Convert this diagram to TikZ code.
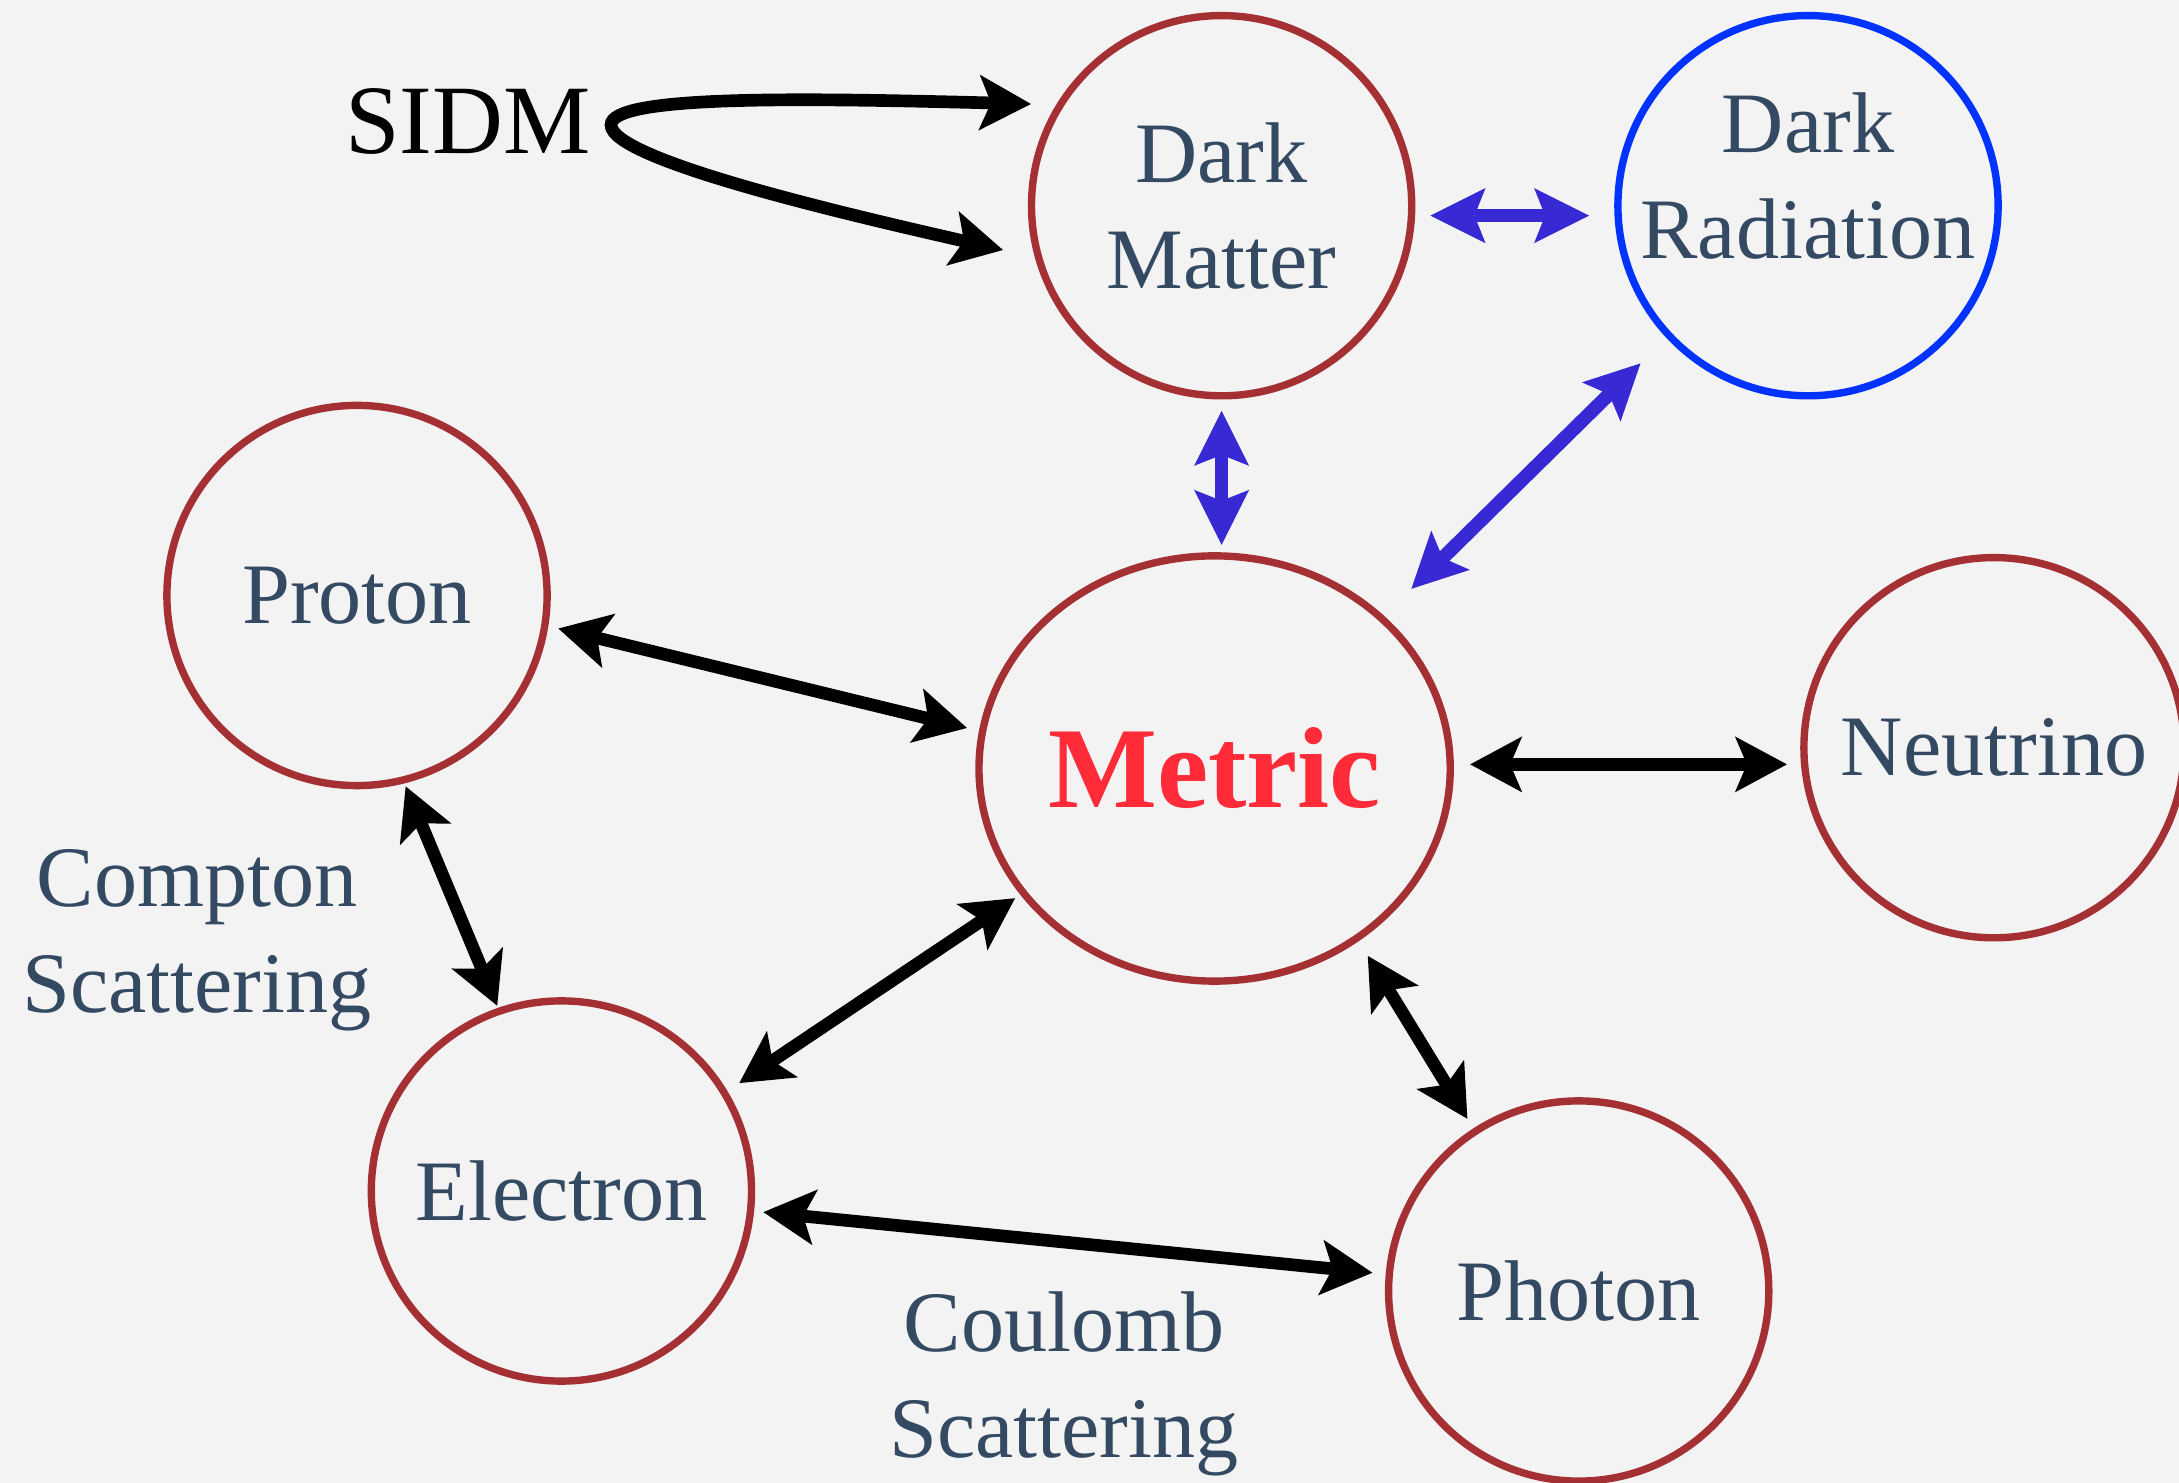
\documentclass[tikz,border=0pt]{standalone}
\usepackage{fontspec}
\setmainfont{Liberation Serif}
\usepackage{tikz}
\usetikzlibrary{arrows.meta,shapes.geometric}
\definecolor{bgcol}{HTML}{F3F3F3}
\definecolor{ringred}{HTML}{A43033}
\definecolor{ringblue}{HTML}{0033FF}
\definecolor{labelcol}{HTML}{344A63}
\definecolor{metricred}{HTML}{FF2B38}
\definecolor{arrowblue}{HTML}{3729D4}
\tikzset{
  particle/.style={circle,draw=ringred,line width=2.1pt,minimum size=3.8cm,
    inner sep=0pt,outer sep=0pt,text=labelcol,align=center,
    font=\fontsize{24.5}{30.2}\selectfont},
  caption/.style={text=labelcol,align=center,font=\fontsize{24.5}{30.2}\selectfont},
  blackarrow/.style={{Stealth[length=0.52cm,width=0.56cm,inset=0.12cm,line width=0pt]}-{Stealth[length=0.52cm,width=0.56cm,inset=0.12cm,line width=0pt]},
    line width=3.6pt,draw=black},
  bluearrow/.style={{Stealth[length=0.55cm,width=0.55cm,inset=0.11cm,line width=0pt]}-{Stealth[length=0.55cm,width=0.55cm,inset=0.11cm,line width=0pt]},
    line width=3.9pt,draw=arrowblue}
}

\begin{document}
\begin{tikzpicture}[x=0.01cm,y=-0.01cm]
    \fill[bgcol] (0,0) rectangle (2179,1483);
    \useasboundingbox (0,0) rectangle (2179,1483);

    \node[particle] (DM) at (1221.6,205.7) {Dark\\Matter};
    \node[particle,draw=ringblue,
      label={[caption,yshift=0.3cm]center:Dark\\Radiation}] (DR) at (1808,205.7) {};
    \node[particle] (Proton) at (357,595.5) {Proton};
    \node[ellipse,draw=ringred,line width=2.1pt,minimum width=4.71cm,minimum height=4.25cm,
      inner sep=0pt,outer sep=0pt,text=metricred,
      font=\fontsize{32.8}{38}\selectfont\bfseries] (Metric) at (1214.6,768.5) {Metric};
    \node[particle] (Neutrino) at (1994,747.7) {Neutrino};
    \node[particle] (Electron) at (561.4,1191) {Electron};
    \node[particle] (Photon) at (1578.7,1291) {Photon};

    \node[font=\fontsize{27.9}{33}\selectfont] (SIDM) at (468,122) {SIDM};
    \node[caption] (compton) at (197,940) {Compton\\Scattering};
    \node[caption] (coulomb) at (1064,1384) {Coulomb\\Scattering};

    \coordinate (looptop) at (1031,104);
    \coordinate (loopturn) at (611,125);
    \coordinate (loopbot) at (1003,250);
    \draw[blackarrow] (looptop) .. controls (800,98) and (611,95) .. (loopturn)
      .. controls (611,160) and (850,215) .. (loopbot);

    \draw[bluearrow,shorten <=0.19cm,shorten >=0.29cm] (DM.-3.4) -- (DR.183.4);
    \draw[bluearrow,shorten <=0.15cm,shorten >=0.11cm] (DM.south) -- (DM.south |- Metric.north);
    \draw[bluearrow,shorten <=0.42cm,shorten >=0.40cm] (Metric.42) -- (DR.223);

    \draw[blackarrow,shorten <=0.14cm,shorten >=0.16cm] (Proton.-9) -- (Metric.171.6);
    \draw[blackarrow,shorten <=0.20cm,shorten >=0.17cm] (Metric.1.6) -- (Metric.1.6 -| Neutrino.west);
    \draw[blackarrow,shorten <=0.07cm,shorten >=0.06cm] (Proton.-76.3) -- (Electron.109.5);
    \draw[blackarrow,shorten <=0.10cm,shorten >=0.18cm] (Metric.213.5) -- (Electron.31.3);
    \draw[blackarrow,shorten <=0.21cm,shorten >=0.15cm] (Metric.-50.9) -- (Photon.123.4);
    \draw[blackarrow,shorten <=0.13cm,shorten >=0.17cm] (Electron.-6.2) -- (Photon.175.3);
\end{tikzpicture}
\end{document}
